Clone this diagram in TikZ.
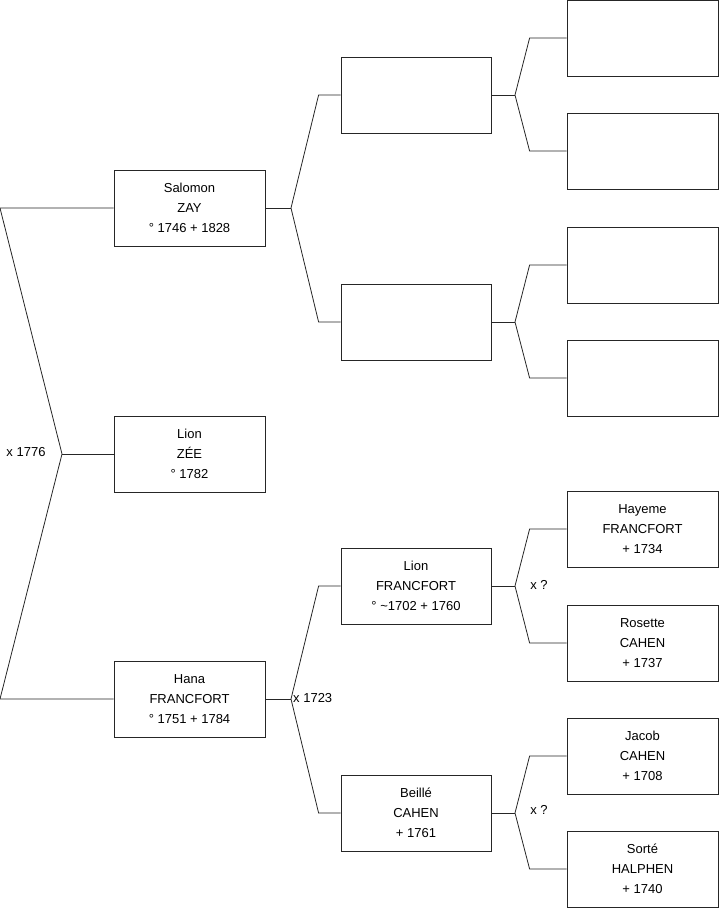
\documentclass[tikz,border=0pt]{standalone}
\usepackage{fontspec}
\setmainfont{Liberation Sans}
\usetikzlibrary{positioning,calc}

\begin{document}
\begin{tikzpicture}[x=1pt,y=-1pt,
  person/.style={draw=black!85,line width=.8pt,minimum width=151pt,minimum height=76pt,
    align=center,inner sep=0pt,font=\fontsize{13}{20}\selectfont},
  link/.style={draw=black!85,line width=.8pt},
  union/.style={inner sep=0pt,font=\fontsize{13}{15}\selectfont}]
\useasboundingbox (0,0) rectangle (719,908);
% generation 1
\node[person] (salomon) at (189.5,208) {Salomon\\ZAY\\° 1746 + 1828};
\node[person] (lion) at (189.5,454) {Lion\\ZÉE\\° 1782};
\node[person] (hana) at (189.5,699) {Hana\\FRANCFORT\\° 1751 + 1784};
% generation 2
\node[person,minimum width=150pt] (zayF) at (416,95) {};
\node[person,minimum width=150pt] (zayM) at (416,322) {};
\node[person,minimum width=150pt] (lionF) at (416,586) {Lion\\FRANCFORT\\° \textasciitilde1702 + 1760};
\node[person,minimum width=150pt] (beille) at (416,813) {Beillé\\CAHEN\\+ 1761};
% generation 3
\foreach \n/\y in {a/38,b/151,c/265,d/378}{\node[person] (g\n) at (642.5,\y) {};}
\node[person] (hayeme) at (642.5,529) {Hayeme\\FRANCFORT\\+ 1734};
\node[person] (rosette) at (642.5,643) {Rosette\\CAHEN\\+ 1737};
\node[person] (jacob) at (642.5,756) {Jacob\\CAHEN\\+ 1708};
\node[person] (sorte) at (642.5,869) {Sorté\\HALPHEN\\+ 1740};
% forks
\coordinate (fL) at (62,454);
\coordinate (topL) at (0,208);
\coordinate (botL) at (0,699);
\coordinate (fS) at (291,208);
\coordinate (fH) at (291,699);
\coordinate (fZF) at (515,95);
\coordinate (fZM) at (515,322);
\coordinate (fLF) at (515,586);
\coordinate (fB) at (515,813);
\draw[link] (salomon.west) -- (topL) -- (fL) -- (botL) -- (hana.west);
\draw[link] (fL) -- (lion.west);
\draw[link] (salomon.east) -- (fS);
\draw[link] (zayF.west) -- ++(-22,0) -- (fS) -- ([xshift=-22pt]zayM.west) -- (zayM.west);
\draw[link] (hana.east) -- (fH);
\draw[link] (lionF.west) -- ++(-22,0) -- (fH) -- ([xshift=-22pt]beille.west) -- (beille.west);
\draw[link] (zayF.east) -- (fZF);
\draw[link] (ga.west) -- ++(-37,0) -- (fZF) -- ([xshift=-37pt]gb.west) -- (gb.west);
\draw[link] (zayM.east) -- (fZM);
\draw[link] (gc.west) -- ++(-37,0) -- (fZM) -- ([xshift=-37pt]gd.west) -- (gd.west);
\draw[link] (lionF.east) -- (fLF);
\draw[link] (hayeme.west) -- ++(-37,0) -- (fLF) -- ([xshift=-37pt]rosette.west) -- (rosette.west);
\draw[link] (beille.east) -- (fB);
\draw[link] (jacob.west) -- ++(-37,0) -- (fB) -- ([xshift=-37pt]sorte.west) -- (sorte.west);
% marriages
\node[union] (m1776) at (26,452) {x 1776};
\node[union,anchor=west] (m1723) at (293,698) {x 1723};
\node[union] (mLF) at (539,585) {x ?};
\node[union] (mB) at (539,810) {x ?};
\end{tikzpicture}
\end{document}
